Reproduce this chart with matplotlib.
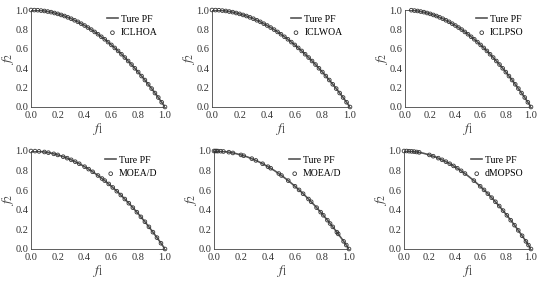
import matplotlib
matplotlib.use('Agg')
import matplotlib.pyplot as plt

plt.rcParams['font.family'] = ['Liberation Serif', 'DejaVu Serif']
plt.rcParams['mathtext.fontset'] = 'stix'

# true Pareto front
pf_f1 = [0.0, 0.05, 0.1, 0.15, 0.2, 0.25, 0.3, 0.35, 0.4, 0.45, 0.5, 0.55, 0.6,
         0.65, 0.7, 0.75, 0.8, 0.85, 0.9, 0.95, 1.0]
pf_f2 = [1.0, 0.998, 0.99, 0.978, 0.96, 0.938, 0.91, 0.878, 0.84, 0.798, 0.75, 0.698,
         0.64, 0.578, 0.51, 0.438, 0.36, 0.278, 0.19, 0.098, 0.0]

# dense, evenly spread solutions (ICLHOA / ICLWOA)
dense_f1 = [0.0, 0.025, 0.05, 0.075, 0.1, 0.125, 0.15, 0.175, 0.2, 0.225, 0.25,
            0.275, 0.3, 0.325, 0.35, 0.375, 0.4, 0.425, 0.45, 0.475, 0.5, 0.525,
            0.55, 0.575, 0.6, 0.625, 0.65, 0.675, 0.7, 0.725, 0.75, 0.775, 0.8,
            0.825, 0.85, 0.875, 0.9, 0.925, 0.95, 0.975, 1.0]
dense_f2 = [1.0, 0.999, 0.998, 0.994, 0.99, 0.984, 0.978, 0.969, 0.96, 0.949, 0.938,
            0.924, 0.91, 0.894, 0.878, 0.859, 0.84, 0.819, 0.798, 0.774, 0.75, 0.724,
            0.698, 0.669, 0.64, 0.609, 0.578, 0.544, 0.51, 0.474, 0.438, 0.399, 0.36,
            0.319, 0.278, 0.234, 0.19, 0.144, 0.098, 0.049, 0.0]

# ICLPSO starts near f1 = 0.05
iclpso_f1 = dense_f1[2:]
iclpso_f2 = dense_f2[2:]

moead1_f1 = [0.0, 0.03, 0.06, 0.1, 0.13, 0.17, 0.2, 0.24, 0.27, 0.3, 0.33, 0.36,
             0.4, 0.43, 0.46, 0.5, 0.53, 0.55, 0.58, 0.61, 0.64, 0.67, 0.7, 0.73,
             0.76, 0.79, 0.82, 0.85, 0.88, 0.91, 0.94, 0.97, 1.0]
moead1_f2 = [1.0, 0.999, 0.996, 0.99, 0.983, 0.971, 0.96, 0.942, 0.927, 0.91, 0.891,
             0.87, 0.84, 0.815, 0.788, 0.75, 0.719, 0.698, 0.664, 0.628, 0.59, 0.551,
             0.51, 0.467, 0.422, 0.376, 0.328, 0.278, 0.226, 0.172, 0.116, 0.059, 0.0]

moead2_f1 = [0.0, 0.01, 0.02, 0.03, 0.05, 0.07, 0.11, 0.14, 0.2, 0.22, 0.28, 0.31,
             0.36, 0.4, 0.42, 0.48, 0.5, 0.55, 0.6, 0.63, 0.66, 0.7, 0.72, 0.76,
             0.79, 0.81, 0.84, 0.86, 0.88, 0.91, 0.92, 0.96, 0.98, 1.0]
moead2_f2 = [1.0, 1.0, 1.0, 0.999, 0.998, 0.995, 0.988, 0.98, 0.96, 0.952, 0.922, 0.904,
             0.87, 0.84, 0.824, 0.77, 0.75, 0.698, 0.64, 0.603, 0.564, 0.51, 0.482, 0.422,
             0.376, 0.344, 0.294, 0.26, 0.226, 0.172, 0.154, 0.078, 0.04, 0.0]

dmopso_f1 = [0.0, 0.02, 0.04, 0.06, 0.08, 0.1, 0.12, 0.2, 0.23, 0.27, 0.3, 0.33,
             0.36, 0.39, 0.42, 0.45, 0.48, 0.55, 0.6, 0.63, 0.66, 0.69, 0.72, 0.75,
             0.78, 0.81, 0.84, 0.87, 0.9, 0.93, 0.96, 0.98, 1.0]
dmopso_f2 = [1.0, 1.0, 0.998, 0.996, 0.994, 0.99, 0.986, 0.96, 0.947, 0.927, 0.91, 0.891,
             0.87, 0.848, 0.824, 0.798, 0.77, 0.698, 0.64, 0.603, 0.564, 0.524, 0.482, 0.438,
             0.392, 0.344, 0.294, 0.243, 0.19, 0.135, 0.078, 0.04, 0.0]

names = ['ICLHOA', 'ICLWOA', 'ICLPSO', 'MOEA/D', 'MOEA/D', 'dMOPSO']
solutions = [(dense_f1, dense_f2), (dense_f1, dense_f2), (iclpso_f1, iclpso_f2),
             (moead1_f1, moead1_f2), (moead2_f1, moead2_f2), (dmopso_f1, dmopso_f2)]

W, H = 550, 281
# axes boxes in pixels: left, top, right, bottom
boxes = [(31, 10, 165, 107), (212, 10, 350, 107), (405, 10, 531, 107),
         (31, 151, 165, 249), (214, 151, 349, 249), (404, 151, 531, 249)]

fig = plt.figure(figsize=(W / 100, H / 100), dpi=100)
ticks = [0.0, 0.2, 0.4, 0.6, 0.8, 1.0]

for (l, t, r, b), name, (sx, sy) in zip(boxes, names, solutions):
    ax = fig.add_axes([l / W, 1 - b / H, (r - l) / W, (b - t) / H])
    ax.plot(pf_f1, pf_f2, color='#555555', lw=1.2, label='Ture PF')
    ax.scatter(sx, sy, s=7, facecolors='none', edgecolors='#333333',
               linewidths=0.6, label=name, zorder=3, clip_on=False)
    ax.set_xlim(0, 1)
    ax.set_ylim(0, 1)
    ax.set_xticks(ticks)
    ax.set_yticks(ticks)
    ax.set_xticklabels(['%.1f' % v for v in ticks])
    ax.set_yticklabels(['%.1f' % v for v in ticks])
    ax.tick_params(labelsize=7.5, length=0, colors='#333333')
    ax.tick_params(axis='x', pad=3)
    ax.tick_params(axis='y', pad=2)
    for s in ['top', 'right']:
        ax.spines[s].set_visible(False)
    for s in ['left', 'bottom']:
        ax.spines[s].set_color('#444444')
        ax.spines[s].set_linewidth(0.6)
    ax.set_xlabel('$f_1$', fontsize=10, color='#444444')
    ax.set_ylabel('$f_2$', fontsize=10, color='#444444')
    w_px, h_px = r - l, b - t
    ax.xaxis.set_label_coords(0.5, -14.0 / h_px)
    ax.yaxis.set_label_coords(-15.0 / w_px, 0.5)
    ax.legend(loc='upper right', fontsize=7, frameon=False, handlelength=1.1,
              handletextpad=0.3, borderaxespad=0.1, labelspacing=0.45,
              bbox_to_anchor=(0.98, 1.0))

fig.savefig('out.png', dpi=100)
